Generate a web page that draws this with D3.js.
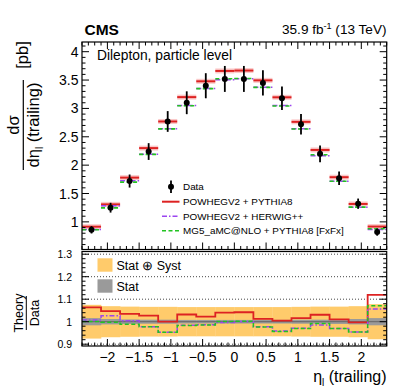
<!DOCTYPE html>
<html>
<head>
<meta charset="utf-8">
<script src="https://cdn.jsdelivr.net/npm/d3@7"></script>
<style>
  body { margin: 0; background: #fff; }
  svg { display: block; font-family: "Liberation Sans", Arial, Helvetica, sans-serif; }
</style>
</head>
<body>
<div id="chart"></div>
<script>
// bin edges in eta (trailing lepton)
const etaEdges = [-2.4, -2.1, -1.8, -1.5, -1.2, -0.9, -0.6, -0.3, 0, 0.3, 0.6, 0.9, 1.2, 1.5, 1.8, 2.1, 2.4];
// measured cross section [pb]
const dataXsec = [0.86, 1.25, 1.72, 2.24, 2.77, 3.10, 3.40, 3.52, 3.52, 3.45, 3.18, 2.72, 2.20, 1.77, 1.32, 0.82];
// relative uncertainties
const relTotal = [0.075, 0.069, 0.067, 0.066, 0.066, 0.065, 0.065, 0.065, 0.065, 0.065, 0.065, 0.066, 0.067, 0.067, 0.069, 0.078];
const relStat = [0.016, 0.012, 0.010, 0.009, 0.009, 0.008, 0.008, 0.008, 0.008, 0.008, 0.008, 0.009, 0.009, 0.010, 0.012, 0.016];
// theory / data
const ratioPowhegPythia = [1.064, 1.047, 1.035, 1.027, 1.000, 1.032, 1.023, 1.040, 1.042, 1.013, 1.005, 1.016, 1.031, 1.010, 0.997, 1.119];
const ratioPowhegHerwig = [1.008, 1.026, 1.004, 0.978, 0.953, 0.984, 0.986, 0.996, 1.001, 0.978, 0.959, 0.971, 0.985, 0.970, 0.954, 1.057];
const ratioMg5 = [1.001, 0.998, 0.989, 0.978, 0.953, 0.983, 0.985, 1.001, 1.002, 0.977, 0.957, 0.970, 0.992, 0.970, 0.954, 1.071];

const xTickValues = [-2, -1.5, -1, -0.5, 0, 0.5, 1, 1.5, 2];
const xTickLabels = ["\u22122", "\u22121.5", "\u22121", "\u22120.5", "0", "0.5", "1", "1.5", "2"];
const yTickValues = [1, 1.5, 2, 2.5, 3, 3.5, 4];
const yTickLabels = ["1", "1.5", "2", "2.5", "3", "3.5", "4"];
const rTickValues = [0.9, 1, 1.1, 1.2, 1.3];
const rTickLabels = ["0.9", "1", "1.1", "1.2", "1.3"];

const models = [
  { name: "POWHEGV2 + PYTHIA8", ratio: ratioPowhegPythia, color: "#dd2222", dash: null, width: 2 },
  { name: "POWHEGV2 + HERWIG++", ratio: ratioPowhegHerwig, color: "#9b45f0", dash: "5,2,1.5,2", width: 1.5 },
  { name: "MG5_aMC@NLO + PYTHIA8 [FxFx]", ratio: ratioMg5, color: "#22c322", dash: "4,2.5", width: 1.6 }
];

const width = 407, height = 391;
const svg = d3.select("#chart").append("svg")
  .attr("width", width)
  .attr("height", height);

const x = d3.scaleLinear().domain([-2.4, 2.4]).range([82, 386.7]);
const y = d3.scaleLinear().domain([0.513, 4.171]).range([249.5, 42]);
const yr = d3.scaleLinear().domain([0.892, 1.312]).range([346, 251.5]);

const bins = d3.range(dataXsec.length).map(i => ({
  x0: etaEdges[i], x1: etaEdges[i + 1], c: (etaEdges[i] + etaEdges[i + 1]) / 2,
  v: dataXsec[i], tot: relTotal[i], stat: relStat[i]
}));

const fmtKey = v => Math.round(v * 100);

// ---------- upper panel ----------
const up = svg.append("g");

// theory predictions
models.forEach((m, mi) => {
  const g = up.append("g");
  if (mi === 0) {
    g.selectAll("rect").data(bins).enter().append("rect")
      .attr("x", d => x(d.x0)).attr("width", d => x(d.x1) - x(d.x0))
      .attr("y", (d, i) => y(d.v * m.ratio[i]) - 2.5).attr("height", 5)
      .attr("fill", "#fac9c9");
  }
  g.selectAll("line").data(bins).enter().append("line")
    .attr("x1", d => x(d.x0)).attr("x2", d => x(d.x1))
    .attr("y1", (d, i) => y(d.v * m.ratio[i]))
    .attr("y2", (d, i) => y(d.v * m.ratio[i]))
    .attr("stroke", m.color).attr("stroke-width", m.width)
    .attr("stroke-dasharray", m.dash);
});

// data
const dg = up.append("g");
dg.selectAll("line").data(bins).enter().append("line")
  .attr("x1", d => x(d.c)).attr("x2", d => x(d.c))
  .attr("y1", d => y(d.v * (1 - d.tot))).attr("y2", d => y(d.v * (1 + d.tot)))
  .attr("stroke", "#000").attr("stroke-width", 1.8);
dg.selectAll("circle").data(bins).enter().append("circle")
  .attr("cx", d => x(d.c)).attr("cy", d => y(d.v)).attr("r", 3)
  .attr("fill", "#000");

// frame + ticks
function drawFrame(g, yScale, yMajors, yMinors, top, bottom, xTop) {
  const x0 = x.range()[0], x1 = x.range()[1];
  const xMinors = d3.range(-24, 25).map(v => v / 10).filter(v => fmtKey(v) % 50 !== 0);
  const tk = g.append("g").attr("stroke", "#000").attr("stroke-width", 1);
  xTickValues.forEach(v => {
    tk.append("line").attr("x1", x(v)).attr("x2", x(v)).attr("y1", bottom).attr("y2", bottom - 7);
    if (xTop) tk.append("line").attr("x1", x(v)).attr("x2", x(v)).attr("y1", top).attr("y2", top + 7);
  });
  xMinors.forEach(v => {
    tk.append("line").attr("x1", x(v)).attr("x2", x(v)).attr("y1", bottom).attr("y2", bottom - 3.5);
    if (xTop) tk.append("line").attr("x1", x(v)).attr("x2", x(v)).attr("y1", top).attr("y2", top + 3.5);
  });
  yMajors.forEach(v => {
    tk.append("line").attr("x1", x0).attr("x2", x0 + 7).attr("y1", yScale(v)).attr("y2", yScale(v));
    tk.append("line").attr("x1", x1).attr("x2", x1 - 7).attr("y1", yScale(v)).attr("y2", yScale(v));
  });
  yMinors.forEach(v => {
    tk.append("line").attr("x1", x0).attr("x2", x0 + 3.5).attr("y1", yScale(v)).attr("y2", yScale(v));
    tk.append("line").attr("x1", x1).attr("x2", x1 - 3.5).attr("y1", yScale(v)).attr("y2", yScale(v));
  });
  g.append("rect").attr("x", x0).attr("y", top).attr("width", x1 - x0).attr("height", bottom - top)
    .attr("fill", "none").attr("stroke", "#000").attr("stroke-width", 1.2);
}

const upMinors = d3.range(6, 42).map(v => v / 10).filter(v => fmtKey(v) % 50 !== 0);
drawFrame(up, y, yTickValues, upMinors, 42, 249.5, true);

up.append("g").selectAll("text").data(yTickValues).enter().append("text")
  .attr("x", 78.5).attr("y", d => y(d) + 5)
  .attr("text-anchor", "end").attr("font-size", 14)
  .text((d, i) => yTickLabels[i]);

up.append("text").attr("x", 97).attr("y", 59.5).attr("font-size", 13.8)
  .text("Dilepton, particle level");

// legend
const lg = up.append("g").attr("font-size", 9.9);
lg.append("line").attr("x1", 171).attr("x2", 171).attr("y1", 180.5).attr("y2", 193)
  .attr("stroke", "#000").attr("stroke-width", 1.8);
lg.append("circle").attr("cx", 171).attr("cy", 186.7).attr("r", 3).attr("fill", "#000");
lg.append("text").attr("x", 183).attr("y", 190.3).text("Data");
models.forEach((m, i) => {
  const yy = 201.7 + i * 14.5;
  lg.append("line").attr("x1", 162).attr("x2", 179.5).attr("y1", yy).attr("y2", yy)
    .attr("stroke", m.color).attr("stroke-width", m.width).attr("stroke-dasharray", m.dash);
  lg.append("text").attr("x", 183).attr("y", yy + 3.5).text(m.name);
});

// y title (fraction)
const yt = svg.append("g").attr("transform", "translate(0,125) rotate(-90)").attr("font-size", 16.5);
yt.append("text").attr("x", 0).attr("y", 18.5).attr("text-anchor", "middle").text("d\u03c3");
yt.append("line").attr("x1", -45).attr("x2", 45).attr("y1", 23.3).attr("y2", 23.3)
  .attr("stroke", "#000").attr("stroke-width", 1.2);
const den = yt.append("text").attr("x", 0).attr("y", 38.5).attr("text-anchor", "middle");
den.append("tspan").text("d\u03b7");
den.append("tspan").attr("font-size", 10).attr("dy", 4).text("l");
den.append("tspan").attr("dy", -4).text(" (trailing)");
yt.append("text").attr("x", 70).attr("y", 28).attr("text-anchor", "middle").text("[pb]");

// header
svg.append("text").attr("x", 84.5).attr("y", 34.5).attr("font-size", 15.5).attr("font-weight", "bold").text("CMS");
const lumi = svg.append("text").attr("x", 386.5).attr("y", 34).attr("font-size", 13.6).attr("text-anchor", "end");
lumi.append("tspan").text("35.9 fb");
lumi.append("tspan").attr("font-size", 9).attr("dy", -5).text("-1");
lumi.append("tspan").attr("dy", 5).text(" (13 TeV)");

// ---------- ratio panel ----------
const lo = svg.append("g");

// dotted grid
lo.append("g").selectAll("line").data([0.9, 1.1, 1.2, 1.3]).enter().append("line")
  .attr("x1", x(-2.4)).attr("x2", x(2.4)).attr("y1", d => yr(d)).attr("y2", d => yr(d))
  .attr("stroke", "#444").attr("stroke-width", 1).attr("stroke-dasharray", "1,2");

lo.append("g").selectAll("rect").data(bins).enter().append("rect")
  .attr("x", d => x(d.x0)).attr("width", d => x(d.x1) - x(d.x0) + 0.3)
  .attr("y", d => yr(1 + d.tot)).attr("height", d => yr(1 - d.tot) - yr(1 + d.tot))
  .attr("fill", "#ffcb6b");
lo.append("g").selectAll("rect").data(bins).enter().append("rect")
  .attr("x", d => x(d.x0)).attr("width", d => x(d.x1) - x(d.x0) + 0.3)
  .attr("y", d => yr(1 + d.stat)).attr("height", d => yr(1 - d.stat) - yr(1 + d.stat))
  .attr("fill", "#9a9a9a");
lo.append("line").attr("x1", x(-2.4)).attr("x2", x(2.4)).attr("y1", yr(1)).attr("y2", yr(1))
  .attr("stroke", "#666").attr("stroke-width", 1);

const step = d3.line().x(d => x(d[0])).y(d => yr(d[1])).curve(d3.curveStepAfter);
models.forEach(m => {
  const pts = etaEdges.map((e, i) => [e, m.ratio[Math.min(i, m.ratio.length - 1)]]);
  lo.append("path").attr("d", step(pts)).attr("fill", "none")
    .attr("stroke", m.color).attr("stroke-width", m.width === 2 ? 1.8 : 1.5)
    .attr("stroke-dasharray", m.dash);
});

const loMinors = d3.range(90, 132, 2).map(v => v / 100).filter(v => fmtKey(v) % 10 !== 0);
drawFrame(lo, yr, rTickValues, loMinors, 251.5, 346, false);

lo.append("g").selectAll("text").data(rTickValues).enter().append("text")
  .attr("x", 72).attr("y", d => yr(d) + 3.8)
  .attr("text-anchor", "end").attr("font-size", 10.5)
  .text((d, i) => rTickLabels[i]);

lo.append("g").selectAll("text").data(xTickValues).enter().append("text")
  .attr("x", d => x(d)).attr("y", 361.5)
  .attr("text-anchor", "middle").attr("font-size", 14)
  .text((d, i) => xTickLabels[i]);

// ratio legend
const rl = lo.append("g").attr("font-size", 12.5);
rl.append("rect").attr("x", 97.5).attr("y", 258.3).attr("width", 15).attr("height", 13.4).attr("fill", "#ffcb6b");
rl.append("text").attr("x", 116.5).attr("y", 269.5).text("Stat \u2295 Syst");
rl.append("rect").attr("x", 97.5).attr("y", 279.3).attr("width", 15).attr("height", 13.4).attr("fill", "#9a9a9a");
rl.append("text").attr("x", 116.5).attr("y", 290.5).text("Stat");

// ratio y title
const rt = svg.append("g").attr("transform", "translate(0,313) rotate(-90)").attr("font-size", 12.6);
rt.append("text").attr("x", 0).attr("y", 23).attr("text-anchor", "middle").text("Theory");
rt.append("line").attr("x1", -17).attr("x2", 17).attr("y1", 26.3).attr("y2", 26.3)
  .attr("stroke", "#000").attr("stroke-width", 1);
rt.append("text").attr("x", 0).attr("y", 39).attr("text-anchor", "middle").text("Data");

// x title
const xt = svg.append("text").attr("x", 386.5).attr("y", 381.5).attr("text-anchor", "end").attr("font-size", 16);
xt.append("tspan").text("\u03b7");
xt.append("tspan").attr("font-size", 10).attr("dy", 4).text("l");
xt.append("tspan").attr("dy", -4).text(" (trailing)");
</script>
</body>
</html>
